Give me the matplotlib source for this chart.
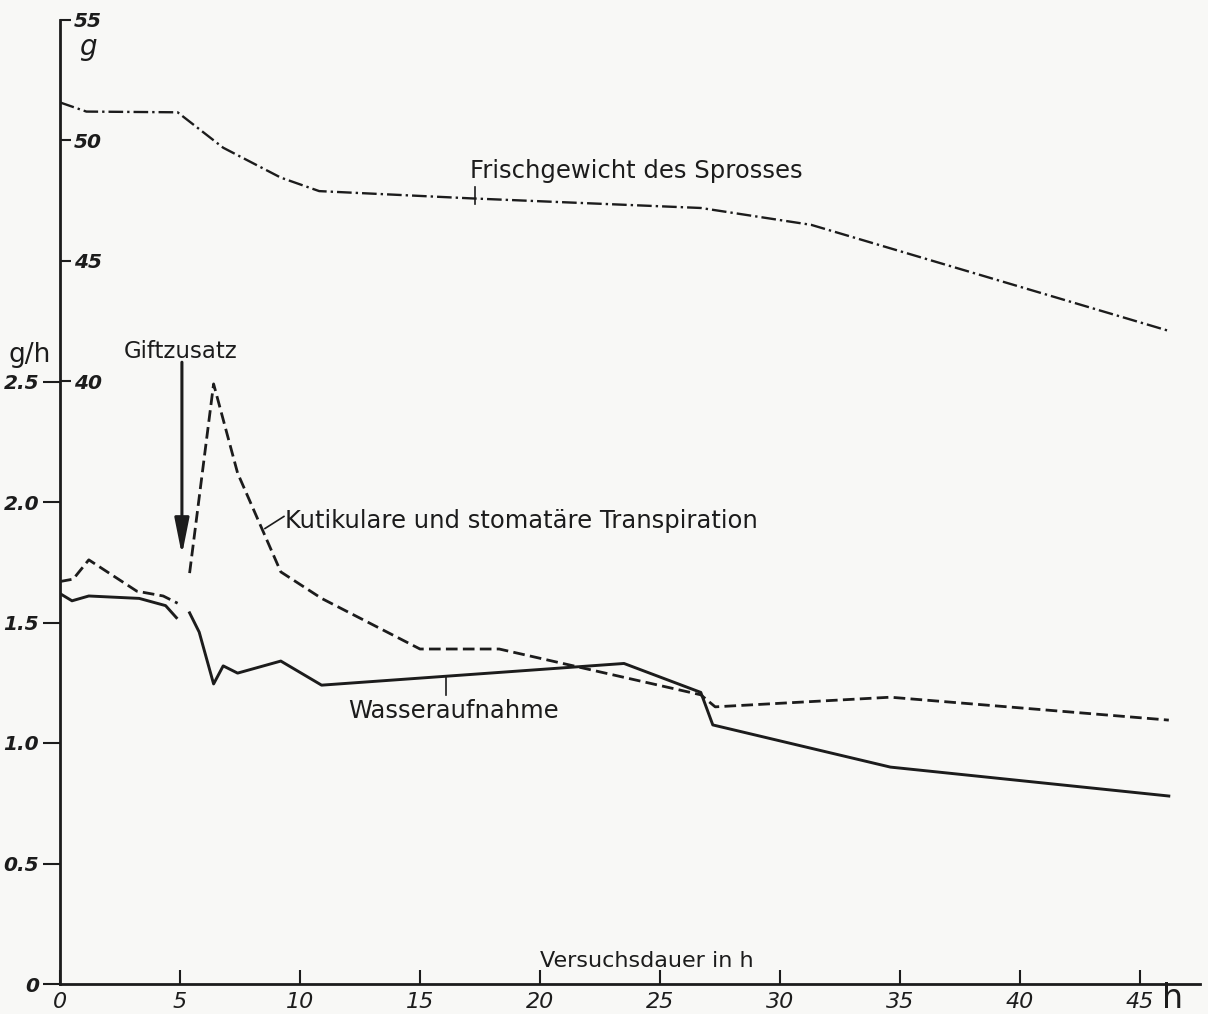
import numpy as np
import matplotlib
matplotlib.use('Agg')
import matplotlib.pyplot as plt

# Versuchsdauer (h) und Werte
t_wasser = [0, 0.5, 1.2, 3.3, 4.4, 4.85, np.nan, 5.4, 5.8, 6.4, 6.8, 7.4, 9.2, 10.9, 23.5, 26.7, 27.2, 34.6, 46.2]
wasser = [1.62, 1.59, 1.61, 1.60, 1.57, 1.52, np.nan, 1.54, 1.46, 1.245, 1.32, 1.29, 1.34, 1.24, 1.33, 1.21, 1.075, 0.90, 0.78]

t_transp = [0, 0.55, 1.2, 3.2, 4.3, 4.9, np.nan, 5.4, 6.4, 7.4, 9.2, 10.9, 15.0, 18.3, 26.7, 27.3, 34.6, 46.2]
transp = [1.67, 1.68, 1.76, 1.63, 1.61, 1.58, np.nan, 1.705, 2.49, 2.12, 1.71, 1.60, 1.39, 1.39, 1.20, 1.15, 1.19, 1.095]

t_gewicht = [0, 1.1, 4.9, 6.8, 9.2, 10.8, 17.1, 26.7, 31.3, 46.2]
gewicht = [51.58, 51.2, 51.17, 49.7, 48.46, 47.9, 47.6, 47.2, 46.5, 42.1]

x_ticks = [0, 5, 10, 15, 20, 25, 30, 35, 40, 45]
gph_ticks = [0, 0.5, 1.0, 1.5, 2.0, 2.5]
gph_labels = ['0', '0.5', '1.0', '1.5', '2.0', '2.5']
g_ticks = [40, 45, 50, 55]

ink = '#1c1c1c'
paper = '#f8f8f6'
plt.rcParams['font.family'] = ['DejaVu Sans']

fig = plt.figure(figsize=(12.08, 10.14), dpi=100, facecolor=paper)
ax = fig.add_axes([60 / 1208, 30 / 1014, 1140 / 1208, 964 / 1014])
ax.set_facecolor(paper)
ax.set_xlim(0, 47.5)
ax.set_ylim(0, 4.0)

for s in ['top', 'right']:
    ax.spines[s].set_visible(False)
for s in ['left', 'bottom']:
    ax.spines[s].set_linewidth(2)
    ax.spines[s].set_color(ink)

ax.set_xticks(x_ticks)
ax.set_xticklabels([str(v) for v in x_ticks], fontsize=16, style='italic', color=ink)
ax.tick_params(axis='x', direction='in', length=10, width=1.5, pad=6, colors=ink)
ax.set_yticks(gph_ticks)
ax.set_yticklabels(gph_labels, fontsize=14.5, style='italic', fontweight='bold', color=ink)
ax.tick_params(axis='y', direction='out', length=12, width=1.5, pad=3, colors=ink)

# zweite Skala (g) am selben Achsenstrich
ax2 = ax.twinx()
ax2.set_ylim(15, 55)
ax2.spines['right'].set_position(('axes', 0))
for s in ax2.spines.values():
    s.set_visible(False)
ax2.set_yticks(g_ticks)
ax2.set_yticklabels([str(v) for v in g_ticks], fontsize=14.5, style='italic', fontweight='bold', color=ink)
ax2.tick_params(axis='y', direction='out', length=8, width=1.5, pad=2, colors=ink)

ax2.plot(t_gewicht, gewicht, color=ink, lw=1.7, ls=(0, (6.2, 1.7, 1, 1.7)))
ax.plot(t_transp, transp, color=ink, lw=2.0, ls=(0, (4.2, 1.9)))
ax.plot(t_wasser, wasser, color=ink, lw=2.1)

# Beschriftungen
ax.text(17.08, 3.344, 'Frischgewicht des Sprosses', fontsize=17.5, color=ink, va='baseline')
ax.plot([17.3, 17.3], [3.235, 3.305], color=ink, lw=1.2)
ax.text(9.375, 1.892, 'Kutikulare und stomatäre Transpiration', fontsize=17.5, color=ink, va='baseline')
ax.plot([9.33, 8.54], [1.94, 1.89], color=ink, lw=1.2)
ax.text(12.0, 1.104, 'Wasseraufnahme', fontsize=17.5, color=ink, va='baseline')
ax.plot([16.1, 16.1], [1.274, 1.20], color=ink, lw=1.2)
ax.text(5.04, 2.598, 'Giftzusatz', fontsize=16.5, color=ink, va='baseline', ha='center')
ax.annotate('', xy=(5.08, 1.78), xytext=(5.08, 2.58),
            arrowprops=dict(arrowstyle='-|>,head_length=1.1,head_width=0.22', lw=2.2,
                            color=ink, mutation_scale=20, shrinkA=0, shrinkB=0))
ax.text(20.0, 0.07, 'Versuchsdauer in h', fontsize=16, color=ink, va='baseline')
ax.text(-2.15, 2.58, 'g/h', fontsize=19, color=ink, va='baseline', clip_on=False)
ax.text(1.17, 3.855, 'g', fontsize=20, color=ink, va='baseline', ha='center', style='italic')
ax.text(45.9, -0.1, 'h', fontsize=24, color=ink, va='baseline', clip_on=False)

fig.savefig('out.png', dpi=100, facecolor=paper)
